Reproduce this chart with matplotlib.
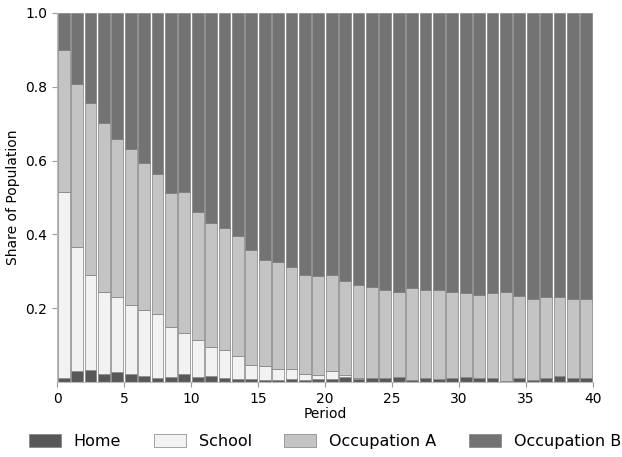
import matplotlib.pyplot as plt
import numpy as np

periods = np.arange(40)

# cumulative tops
home = [0.011, 0.030, 0.033, 0.021, 0.026, 0.021, 0.016, 0.011, 0.014, 0.021,
        0.013, 0.016, 0.011, 0.007, 0.007, 0.005, 0.006, 0.007, 0.006, 0.007,
        0.009, 0.014, 0.007, 0.011, 0.011, 0.013, 0.006, 0.010, 0.008, 0.010,
        0.013, 0.011, 0.011, 0.004, 0.011, 0.006, 0.011, 0.015, 0.010, 0.011]
school_top = [0.514, 0.366, 0.291, 0.243, 0.229, 0.210, 0.196, 0.183, 0.148, 0.132,
              0.114, 0.095, 0.088, 0.070, 0.045, 0.043, 0.034, 0.036, 0.023, 0.019,
              0.029, 0.020, 0.012, 0.011, 0.011, 0.013, 0.006, 0.010, 0.008, 0.010,
              0.013, 0.011, 0.011, 0.004, 0.011, 0.006, 0.011, 0.015, 0.010, 0.011]
occ_a_top = [0.900, 0.808, 0.757, 0.703, 0.659, 0.631, 0.594, 0.564, 0.511, 0.514,
             0.462, 0.432, 0.418, 0.395, 0.358, 0.331, 0.326, 0.312, 0.290, 0.288,
             0.290, 0.273, 0.262, 0.258, 0.250, 0.244, 0.256, 0.249, 0.250, 0.245,
             0.240, 0.235, 0.242, 0.245, 0.234, 0.224, 0.229, 0.230, 0.224, 0.225]

home = np.array(home)
school = np.array(school_top) - home
occ_a = np.array(occ_a_top) - np.array(school_top)
occ_b = 1 - np.array(occ_a_top)

labels = ["Home", "School", "Occupation A", "Occupation B"]
colors = ["#585858", "#f2f2f2", "#c4c4c4", "#737373"]

fig = plt.figure(figsize=(6.22, 4.57), dpi=100)
ax = fig.add_axes([57 / 622, 1 - 382 / 457, 536 / 622, 369 / 457])

bottom = np.zeros(40)
for vals, lab, col in zip([home, school, occ_a, occ_b], labels, colors):
    ax.bar(periods + 0.5, vals, width=0.88, bottom=bottom, color=col,
           edgecolor="#808080", linewidth=0.5, label=lab)
    bottom = bottom + vals

ax.set_xlim(0, 40)
ax.set_ylim(0, 1)
ax.set_xticks(range(0, 41, 5))
ax.set_yticks([0.2, 0.4, 0.6, 0.8, 1.0])
ax.set_xlabel("Period", labelpad=1)
ax.set_ylabel("Share of Population")
for s in ["top", "right"]:
    ax.spines[s].set_visible(False)
for s in ["left", "bottom"]:
    ax.spines[s].set_color("#bbbbbb")
ax.tick_params(color="#999999")

ax.legend(loc="center", bbox_to_anchor=(0.5, -0.162), ncol=4,
          frameon=False, fontsize=11.5, handlelength=2.0, handleheight=0.9,
          columnspacing=2.05, handletextpad=0.8)

fig.savefig("out.png", dpi=100)
